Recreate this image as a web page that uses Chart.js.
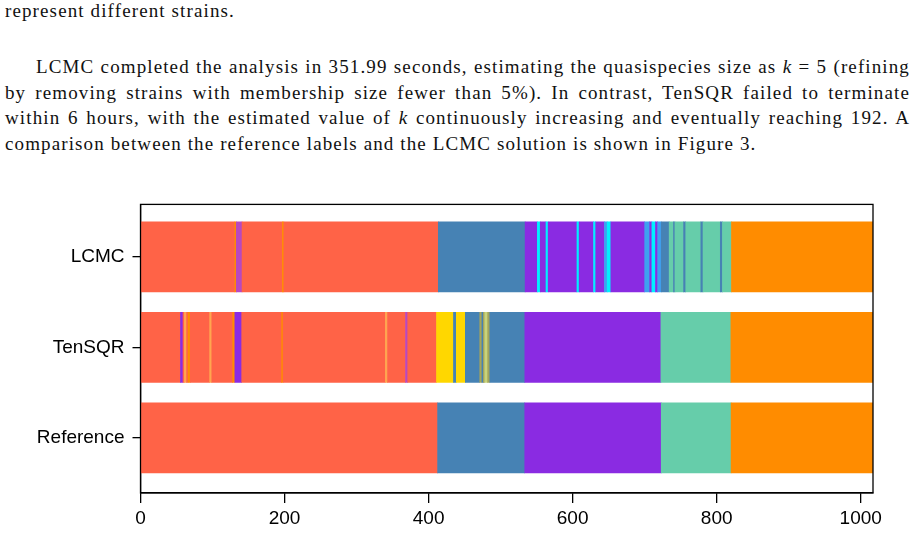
<!DOCTYPE html>
<html>
<head>
<meta charset="utf-8">
<script src="https://cdn.jsdelivr.net/npm/chart.js@4/dist/chart.umd.min.js"></script>
<style>
  html, body { margin:0; padding:0; background:#fff; width:914px; height:535px; overflow:hidden; }
  .txt { position:absolute; left:5px; width:905px; font-family:"Liberation Serif","DejaVu Serif",serif; font-size:19px; letter-spacing:1.12px; line-height:25.5px; color:#111; }
  .j { text-align:justify; text-align-last:justify; }
  .l { text-align:left; white-space:nowrap; }
  i { font-style:italic; }
  #wrap { position:absolute; left:0; top:185px; width:914px; height:350px; }
</style>
</head>
<body>
<div class="txt" style="top:-2px;"><div class="l">represent different strains.</div></div>
<div class="txt" style="top:54px;">
  <div class="j" style="padding-left:31px;">LCMC completed the analysis in 351.99 seconds, estimating the quasispecies size as <i>k</i> = 5 (refining</div>
  <div class="j">by removing strains with membership size fewer than 5%). In contrast, TenSQR failed to terminate</div>
  <div class="j">within 6 hours, with the estimated value of <i>k</i> continuously increasing and eventually reaching 192. A</div>
  <div class="l">comparison between the reference labels and the LCMC solution is shown in Figure 3.</div>
</div>
<div id="wrap"><canvas id="c" width="914" height="350"></canvas></div>
<script>
// ---- data ----
const rows = ['LCMC', 'TenSQR', 'Reference'];
const xTicks = [0, 200, 400, 600, 800, 1000];
const nReads = 1017;

// segment boundaries (read index) and strain ids per row
const lcmcBounds = [0,131,133,141,197,199,413.5,534,551,555,563,566,606,609,629,632,644,648,653,700,707,710,715,718,723,734,740,742,754,757,778,781,805,808,820.5,1017];
const lcmcStrains = ['A','E','P','A','E','A','B','C','G','C','G','C','G','C','G','C','H','G','C','H','C','G','C','H','B','D','B','D','B','D','B','D','B','D','E'];

const tenBounds = [0,55.5,59,61,64,66,69,96,99,128,131,140.5,196,198,340,343,368,371,411,434.5,438.5,451,471,474,476,478,482,485,533.6,722.5,819.7,1017];
const tenStrains = ['A','C','A','I','A','E','A','I','A','E','C','A','E','A','I','A','P','A','F','B','F','B','O','B','O','Y','O','B','C','D','E'];

const refBounds = [0,412.5,533.5,723,820,1017];
const refStrains = ['A','B','C','D','E'];

// ---- styles ----
const strainColor = {
  A:'#FF6347', B:'#4682B4', C:'#8A2BE2', D:'#66CDAA', E:'#FF8C00', F:'#FFD700',
  G:'#00F0FF', H:'#3FA0F0', I:'#FFA54F', P:'#B848C0', O:'#A4A45C', Y:'#C8D47A'
};

const points = [], colors = [];
[[lcmcBounds, lcmcStrains], [tenBounds, tenStrains], [refBounds, refStrains]].forEach(([b, s], r) => {
  for (let i = 0; i < s.length; i++) {
    points.push({ x: [b[i], b[i + 1]], y: r });
    colors.push(strainColor[s[i]]);
  }
});

const frame = {
  id: 'frame',
  afterDatasetsDraw(chart) {
    const a = chart.chartArea, ctx = chart.ctx;
    ctx.save();
    ctx.strokeStyle = '#000';
    ctx.lineWidth = 1.3;
    ctx.strokeRect(a.left, a.top, a.right - a.left, a.bottom - a.top);
    ctx.restore();
  }
};

new Chart(document.getElementById('c'), {
  type: 'bar',
  data: {
    datasets: [{
      data: points,
      backgroundColor: colors,
      borderWidth: 0,
      barThickness: 70,
      grouped: false
    }]
  },
  options: {
    indexAxis: 'y',
    responsive: false,
    animation: false,
    layout: { padding: { top: 16, right: 41, left: 0, bottom: 0 } },
    plugins: { legend: { display: false }, tooltip: { enabled: false } },
    scales: {
      x: {
        type: 'linear', min: 0, max: nReads,
        afterBuildTicks: s => { s.ticks = xTicks.map(v => ({ value: v })); },
        afterFit: s => { s.height = 42; },
        ticks: { color: '#000', font: { family: 'Liberation Sans, Arial, sans-serif', size: 19 }, padding: 4, maxRotation: 0, callback: v => String(v) },
        grid: { drawOnChartArea: false, drawTicks: true, tickLength: 10, color: '#000', lineWidth: 1.3 },
        border: { display: true, color: '#000', width: 1.3 }
      },
      y: {
        type: 'linear', min: -0.58, max: 2.61, reverse: true, offset: false,
        afterBuildTicks: s => { s.ticks = rows.map((_, i) => ({ value: i })); },
        afterFit: s => { s.width = 140.5; },
        ticks: { color: '#000', font: { family: 'Liberation Sans, Arial, sans-serif', size: 19 }, padding: 8, callback: v => rows[v] },
        grid: { offset: false, drawOnChartArea: false, drawTicks: true, tickLength: 8, color: '#000', lineWidth: 1.3 },
        border: { display: true, color: '#000', width: 1.3 }
      }
    }
  },
  plugins: [frame]
});
</script>
</body>
</html>
